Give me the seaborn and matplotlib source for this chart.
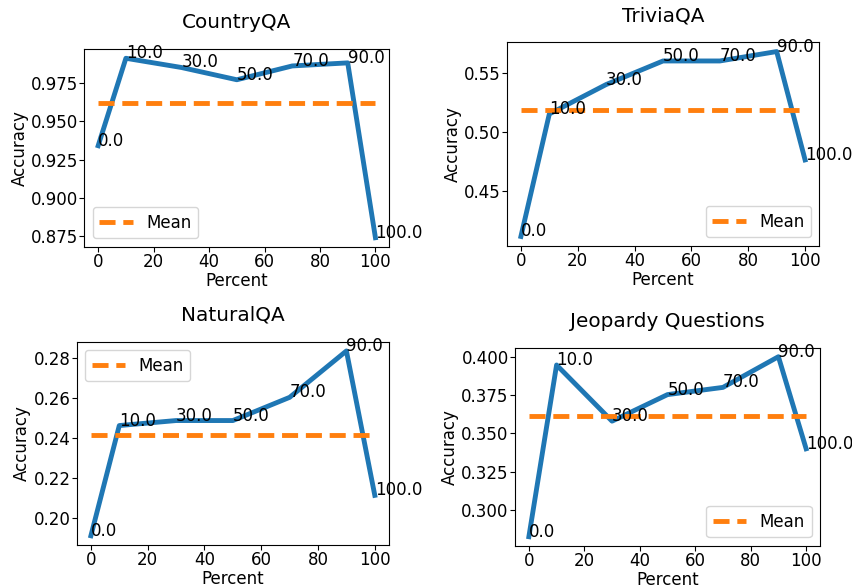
import numpy as np
import matplotlib
matplotlib.use("Agg")
import matplotlib.pyplot as plt
import seaborn as sns

plt.rcParams["font.family"] = ["DejaVu Sans"]
plt.rcParams["font.size"] = 12

percent = [0, 10, 30, 50, 70, 90, 100]

titles = ["CountryQA", "TriviaQA", "NaturalQA", "Jeopardy Questions"]

country_acc = [0.934, 0.991, 0.985, 0.977, 0.986, 0.988, 0.874]
trivia_acc = [0.411, 0.515, 0.540, 0.560, 0.560, 0.568, 0.476]
natural_acc = [0.1909, 0.2460, 0.2485, 0.2485, 0.2601, 0.2833, 0.2111]
jeopardy_acc = [0.2827, 0.3946, 0.358, 0.3753, 0.380, 0.400, 0.340]

country_yticks = [0.875, 0.900, 0.925, 0.950, 0.975]
trivia_yticks = [0.45, 0.50, 0.55]
natural_yticks = [0.20, 0.22, 0.24, 0.26, 0.28]
jeopardy_yticks = [0.300, 0.325, 0.350, 0.375, 0.400]

series = [country_acc, trivia_acc, natural_acc, jeopardy_acc]
yticks = [country_yticks, trivia_yticks, natural_yticks, jeopardy_yticks]
legend_locs = ["lower left", "lower right", "upper left", "lower right"]

W, H = 853, 588
DPI = 100
# axes boxes in pixels: left, right, top, bottom
boxes = [
    (84.3, 389.3, 49.3, 246.7),
    (506.7, 819.3, 42.3, 245.7),
    (76.7, 389.0, 341.7, 545.0),
    (515.0, 820.0, 347.7, 545.7),
]

fig = plt.figure(figsize=(W / DPI, H / DPI), dpi=DPI)

blue = "#1f77b4"
orange = "#ff7f0e"
LW = 3.5

for title, vals, yt, loc, (l, r, t, b) in zip(titles, series, yticks, legend_locs, boxes):
    ax = fig.add_axes([l / W, 1 - b / H, (r - l) / W, (b - t) / H])
    sns.lineplot(x=percent, y=vals, ax=ax, color=blue, linewidth=LW)
    mean_val = float(np.mean(vals))
    sns.lineplot(x=percent, y=[mean_val] * len(percent), ax=ax, color=orange,
                 linewidth=LW, linestyle=(0, (3.3, 1.6)), label="Mean")
    for xp, yv in zip(percent, vals):
        ax.text(xp, yv, f"{float(xp):.1f}", fontsize=12)
    ax.set_yticks(yt)
    ax.set_xticks([0, 20, 40, 60, 80, 100])
    ax.set_xlabel("Percent", fontsize=12, labelpad=0.8)
    ax.set_ylabel("Accuracy", fontsize=12, labelpad=1.6)
    ax.set_title(title, fontsize=14.4, pad=15)
    ax.tick_params(labelsize=12, pad=1)
    ax.legend(loc=loc, fontsize=12)

fig.savefig("out.png", dpi=DPI)
